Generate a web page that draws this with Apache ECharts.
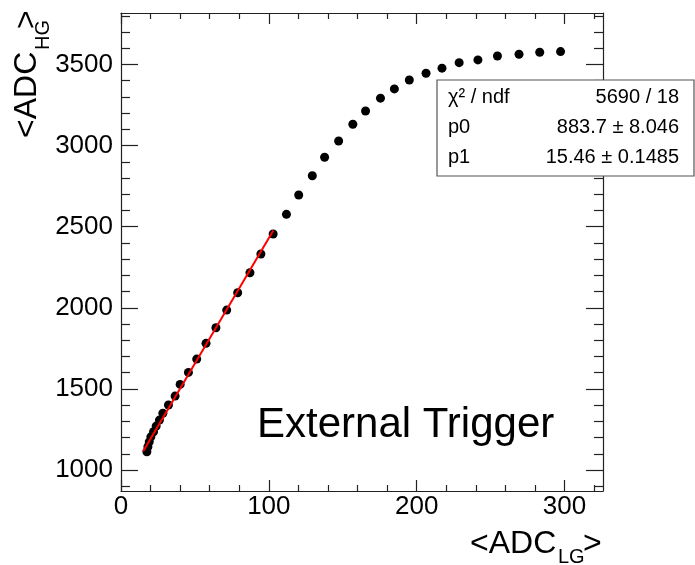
<!DOCTYPE html>
<html><head><meta charset="utf-8">
<script src="https://cdn.jsdelivr.net/npm/echarts@6/dist/echarts.min.js"></script>
<style>html,body{margin:0;padding:0;background:#fff}#c{width:695px;height:565px}</style>
</head><body><div id="c"></div>
<script>
// ---- data ----
const adcLG = [17.5, 18.2, 19.1, 20.2, 22.0, 23.8, 26.0, 28.3, 32.1, 36.6, 40.0, 45.6, 51.2, 57.5, 64.2, 71.5, 78.9, 87.2, 94.6, 102.9,
               111.9, 120.2, 129.4, 137.7, 147.2, 156.8, 165.4, 175.5, 184.9, 195.0, 206.3, 217.1, 228.7, 241.4, 254.6, 269.2, 283.2, 297.3];
const adcHG = [1113, 1144, 1174, 1205, 1236, 1271, 1308, 1350, 1401, 1456, 1528, 1602, 1684, 1781, 1877, 1986, 2093, 2216, 2332, 2455,
               2576, 2695, 2814, 2928, 3028, 3131, 3213, 3292, 3349, 3404, 3446, 3477, 3511, 3528, 3552, 3563, 3575, 3579];
const fitP0 = 883.7;
const fitP1 = 15.46;
const fitRange = [15, 103];
const xMajorTicks = [0, 100, 200, 300];
const xMinorTicks = [20, 40, 60, 80, 120, 140, 160, 180, 220, 240, 260, 280, 320];
const yMajorTicks = [1000, 1500, 2000, 2500, 3000, 3500];
const yMinorTicks = [900, 1100, 1200, 1300, 1400, 1600, 1700, 1800, 1900, 2100, 2200, 2300, 2400,
                     2600, 2700, 2800, 2900, 3100, 3200, 3300, 3400, 3600, 3700, 3800];
const statsLabels = ['χ² / ndf', 'p0', 'p1'];
const statsValues = ['5690 / 18', '883.7 ± 8.046', '15.46 ± 0.1485'];
const xRange = [0, 326];
const yRange = [871, 3817];

const FONT = '"Liberation Sans", Arial, Helvetica, sans-serif';
const AXC = '#222';

const points = adcLG.map((x, i) => [x, adcHG[i]]);
const fitLine = fitRange.map(x => [x, fitP0 + fitP1 * x]);
const plain = v => String(v);

function xAx(gi, pos, ticks, len, main, labels) {
  return {
    type: 'value', gridIndex: gi, position: pos, min: xRange[0], max: xRange[1],
    axisLine: { show: main, onZero: false, lineStyle: { color: AXC, width: 1.2 } },
    axisTick: { show: true, inside: true, length: len, customValues: ticks, lineStyle: { color: AXC, width: 1.2 } },
    axisLabel: labels ? { show: true, customValues: ticks, formatter: plain, margin: 3, fontSize: 26, fontFamily: FONT, color: '#000' } : { show: false },
    splitLine: { show: false }, minorTick: { show: false }
  };
}
function yAx(gi, pos, ticks, len, main, labels) {
  return {
    type: 'value', gridIndex: gi, position: pos, min: yRange[0], max: yRange[1],
    axisLine: { show: main, onZero: false, lineStyle: { color: AXC, width: 1.2 } },
    axisTick: { show: true, inside: true, length: len, customValues: ticks, lineStyle: { color: AXC, width: 1.2 } },
    axisLabel: labels ? { show: true, customValues: ticks, formatter: plain, margin: 8, fontSize: 26, fontFamily: FONT, color: '#000' } : { show: false },
    splitLine: { show: false }, minorTick: { show: false }
  };
}
const gridRect = { left: 121, top: 13, right: 92, bottom: 74 };

const txt = (x, y, text, size, extra) => Object.assign({
  type: 'text', x: x, y: y, z: 110,
  style: { text: text, font: size + 'px ' + FONT, fill: '#000', align: 'left', verticalAlign: 'middle' }
}, extra || {});

const graphic = [
  txt(470, 544, '<ADC', 32), txt(558, 557, 'LG', 20), txt(583, 544, '>', 32),
  txt(27, 138, '<ADC', 32, { rotation: Math.PI / 2 }),
  txt(43, 50, 'HG', 20, { rotation: Math.PI / 2 }),
  txt(27, 29, '>', 32, { rotation: Math.PI / 2 }),
  txt(257, 425, 'External Trigger', 42),
  { type: 'rect', z: 100, shape: { x: 437, y: 80, width: 257, height: 96 },
    style: { fill: '#fff', stroke: '#555', lineWidth: 1.2 } }
];
const rowY = [97, 127, 157];
statsLabels.forEach((s, i) => {
  graphic.push(txt(448, rowY[i], s, 20));
  const v = txt(679, rowY[i], statsValues[i], 20);
  v.style.align = 'right';
  graphic.push(v);
});

const chart = echarts.init(document.getElementById('c'), null, { renderer: 'canvas' });
chart.setOption({
  animation: false,
  backgroundColor: '#fff',
  grid: [gridRect, gridRect, gridRect, gridRect].map(g => Object.assign({ containLabel: false }, g)),
  xAxis: [
    xAx(0, 'bottom', xMajorTicks, 11, true, true),
    xAx(1, 'top', xMajorTicks, 11, true, false),
    xAx(2, 'bottom', xMinorTicks, 6, false, false),
    xAx(3, 'top', xMinorTicks, 6, false, false)
  ],
  yAxis: [
    yAx(0, 'left', yMajorTicks, 17, true, true),
    yAx(1, 'right', yMajorTicks, 17, true, false),
    yAx(2, 'left', yMinorTicks, 9, false, false),
    yAx(3, 'right', yMinorTicks, 9, false, false)
  ],
  series: [
    { type: 'scatter', xAxisIndex: 0, yAxisIndex: 0, data: points, symbol: 'circle', symbolSize: 9,
      itemStyle: { color: '#000', opacity: 1 }, z: 3 },
    { type: 'line', xAxisIndex: 0, yAxisIndex: 0, data: fitLine, symbol: 'none',
      lineStyle: { color: '#ff0000', width: 2 }, z: 5 }
  ],
  graphic: graphic
});
</script></body></html>
